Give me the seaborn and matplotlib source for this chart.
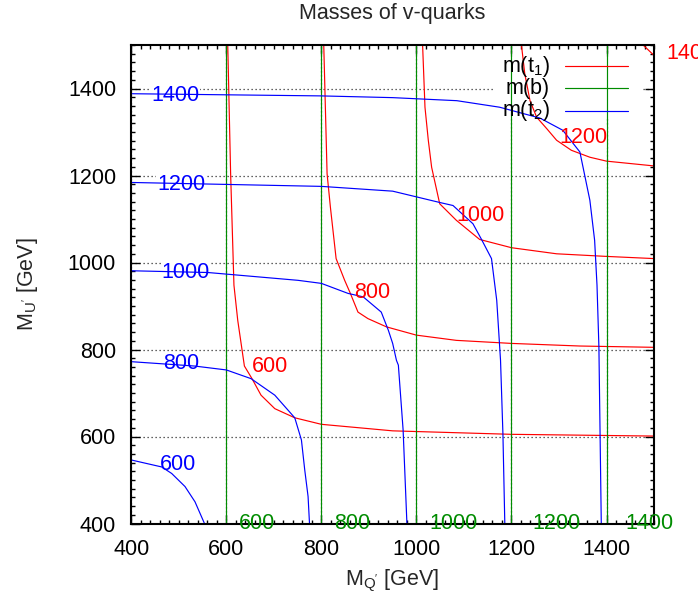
import matplotlib
matplotlib.use("Agg")
import matplotlib.pyplot as plt
import seaborn as sns
from matplotlib.patches import Rectangle
from matplotlib.lines import Line2D
from matplotlib.ticker import MultipleLocator

# ---- contour levels (GeV) ----
LEVELS = [600, 800, 1000, 1200, 1400]

# lighter stop m(t1): vertices (M_Q', M_U') of each contour
T1_600_MQ = [603, 609, 616, 624, 638, 654, 673, 702, 744, 800, 950, 1200, 1500]
T1_600_MU = [1500, 1205, 948, 867, 762, 733, 695, 664, 643, 628, 613, 605, 601]
T1_800_MQ = [805, 812, 819, 831, 849, 861, 877, 898, 937, 1000, 1084, 1200, 1344, 1500]
T1_800_MU = [1500, 1204, 1127, 1009, 959, 929, 886, 871, 852, 833, 821, 814, 808, 805]
T1_1000_MQ = [1013, 1018, 1025, 1032, 1049, 1084, 1133, 1200, 1295, 1400, 1500]
T1_1000_MU = [1500, 1357, 1281, 1219, 1135, 1097, 1053, 1034, 1020, 1014, 1009]
T1_1200_MQ = [1221, 1228, 1239, 1253, 1274, 1295, 1326, 1365, 1400, 1500]
T1_1200_MU = [1500, 1434, 1372, 1334, 1308, 1281, 1258, 1242, 1233, 1222]
T1_1400_MQ = [1477, 1500]
T1_1400_MU = [1500, 1476]

# heavier stop m(t2)
T2_600_MQ = [400, 464, 485, 513, 534, 554]
T2_600_MU = [546, 530, 515, 485, 450, 400]
T2_800_MQ = [400, 533, 600, 652, 702, 744, 758, 765, 772, 775]
T2_800_MU = [772, 762, 753, 733, 695, 643, 592, 523, 462, 400]
T2_1000_MQ = [400, 561, 751, 800, 856, 888, 926, 941, 950, 958, 962, 972, 980]
T2_1000_MU = [981, 977, 959, 952, 929, 921, 886, 844, 814, 775, 764, 615, 400]
T2_1200_MQ = [400, 800, 950, 1049, 1077, 1119, 1137, 1158, 1169, 1177, 1182, 1186]
T2_1200_MU = [1184, 1175, 1164, 1138, 1131, 1089, 1053, 1009, 913, 775, 607, 400]
T2_1400_MQ = [400, 799, 950, 1085, 1175, 1260, 1308, 1344, 1365, 1375, 1380, 1384, 1389]
T2_1400_MU = [1388, 1383, 1379, 1372, 1357, 1332, 1304, 1254, 1143, 1051, 948, 806, 400]

# sbottom m(b): independent of M_U', contours are straight lines in M_Q'
B_MQ = [600, 800, 1000, 1200, 1400]
MU_RANGE = [400, 1500]

T1_CURVES = [(T1_600_MQ, T1_600_MU), (T1_800_MQ, T1_800_MU), (T1_1000_MQ, T1_1000_MU),
             (T1_1200_MQ, T1_1200_MU), (T1_1400_MQ, T1_1400_MU)]
T2_CURVES = [(T2_600_MQ, T2_600_MU), (T2_800_MQ, T2_800_MU), (T2_1000_MQ, T2_1000_MU),
             (T2_1200_MQ, T2_1200_MU), (T2_1400_MQ, T2_1400_MU)]

RED, GREEN, BLUE = "#ff0000", "#008c00", "#0000ff"
FS = 15.5

sns.set_theme(style="ticks")
plt.rcParams["font.family"] = ["Liberation Sans", "DejaVu Sans"]
plt.rcParams["mathtext.fontset"] = "custom"
plt.rcParams["mathtext.rm"] = "Liberation Sans"
plt.rcParams["mathtext.it"] = "Liberation Sans:italic"

fig = plt.figure(figsize=(6.98, 6.0), dpi=100)
ax = fig.add_axes([0.1881, 0.1275, 0.7489, 0.7975])

ax.set_xlim(400, 1500)
ax.set_ylim(400, 1500)

# dotted grid at the major ticks
ax.set_axisbelow(True)
ax.grid(True, which="major", color="#303030", linestyle=(0, (1, 2.2)), linewidth=0.9, zorder=0.5)

LW = 0.85
for mq, mu in T1_CURVES:
    sns.lineplot(x=mq, y=mu, sort=False, estimator=None, color=RED, lw=LW, ax=ax, zorder=2)
for q in B_MQ:
    sns.lineplot(x=[q, q], y=MU_RANGE, sort=False, estimator=None, color=GREEN, lw=LW, ax=ax, zorder=2)
for mq, mu in T2_CURVES:
    sns.lineplot(x=mq, y=mu, sort=False, estimator=None, color=BLUE, lw=LW, ax=ax, zorder=2)


def contour_label(x, y, text, color, ha="center", hide_grid=True):
    if hide_grid:
        ax.text(x, y, text, color="none", fontsize=FS, ha=ha, va="center", zorder=1.5,
                bbox=dict(facecolor="white", edgecolor="none", pad=0.5), clip_on=False)
    ax.text(x, y, text, color=color, fontsize=FS, ha=ha, va="center", zorder=3, clip_on=False)


# m(t1) labels
for (x, y), lev in zip([(691, 762), (906, 932), (1134, 1108), (1351, 1288)], LEVELS[:4]):
    contour_label(x, y, str(lev), RED)
contour_label(1526, 1480, str(LEVELS[4]), RED, ha="left", hide_grid=False)
# m(t2) labels
for (x, y), lev in zip([(498, 536), (505, 768), (514, 978), (505, 1180), (492, 1384)], LEVELS):
    contour_label(x, y, str(lev), BLUE)
# m(b) labels along the lower edge
for x, lev in zip([664, 864, 1079, 1295, 1491], LEVELS):
    contour_label(x, 400, str(lev), GREEN, hide_grid=False)

# key: label text right-aligned, sample line to its right
ax.add_patch(Rectangle((0.696, 0.845), 0.283, 0.125, transform=ax.transAxes,
                       facecolor="white", edgecolor="none", zorder=1.5))
key = [("m(t$_\\mathregular{1}$)", RED), ("m(b)", GREEN), ("m(t$_\\mathregular{2}$)", BLUE)]
for i, (lab, col) in enumerate(key):
    yk = 0.956 - i * 0.0465
    ax.text(0.801, yk, lab, transform=ax.transAxes, ha="right", va="center",
            fontsize=FS, color="black", zorder=3)
    ax.add_line(Line2D([0.830, 0.950], [yk, yk], transform=ax.transAxes, color=col, lw=LW, zorder=3))

# axes, ticks
ax.xaxis.set_major_locator(MultipleLocator(200))
ax.yaxis.set_major_locator(MultipleLocator(200))
ax.xaxis.set_minor_locator(MultipleLocator(20))
ax.yaxis.set_minor_locator(MultipleLocator(20))
ax.tick_params(which="both", direction="in", top=True, right=True, colors="black", width=1.0)
ax.tick_params(which="major", length=6.5, labelsize=FS, pad=11)
ax.tick_params(which="minor", length=3.0)
for s in ax.spines.values():
    s.set_color("black")
    s.set_linewidth(1.5)

ax.set_xlabel("M$_\\mathregular{Q'}$ [GeV]", fontsize=FS, labelpad=6)
ax.set_ylabel("M$_\\mathregular{U'}$ [GeV]", fontsize=FS, labelpad=20)
fig.text(392.5 / 698, 1 - 13 / 600, "Masses of v-quarks", ha="center", va="center", fontsize=FS)

fig.savefig("out.png", dpi=100)
